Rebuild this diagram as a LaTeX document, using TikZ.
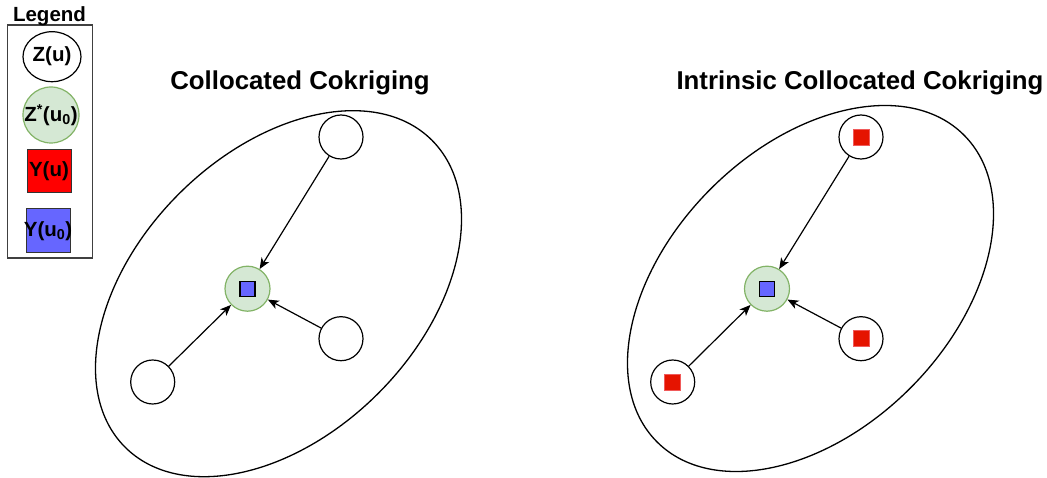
\documentclass[tikz,border=0pt]{standalone}
\usepackage{fontspec}
\setmainfont{Liberation Sans}
\usetikzlibrary{shapes.geometric,arrows.meta}
\definecolor{ptfill}{HTML}{D5E8D4}
\definecolor{ptline}{HTML}{82B366}
\definecolor{sqred}{HTML}{E51400}
\definecolor{sqredline}{HTML}{F05A5A}
\definecolor{legred}{HTML}{FF0000}
\definecolor{sqblue}{HTML}{6666FF}
\tikzset{
  sample/.style={circle,draw,line width=1.2pt,minimum size=44pt,inner sep=0pt},
  target/.style={circle,draw=ptline,fill=ptfill,line width=1.2pt,minimum size=45pt,inner sep=0pt},
  bluesq/.style={rectangle,draw,fill=sqblue,line width=1.1pt,minimum size=15pt,inner sep=0pt},
  redsq/.style={rectangle,draw=sqredline,fill=sqred,line width=0.8pt,minimum size=16pt,inner sep=0pt},
  zone/.style={ellipse,draw,line width=1.3pt,minimum width=434pt,minimum height=282pt,inner sep=0pt,rotate=45},
  arr/.style={line width=1.2pt,-{Stealth[length=11pt,width=9pt,inset=3pt]}},
  title/.style={font=\fontsize{25.8}{30}\selectfont\bfseries,anchor=base,inner sep=0pt},
  legtext/.style={font=\fontsize{20.5}{24}\selectfont\bfseries,inner sep=0pt},
}
\begin{document}
\begin{tikzpicture}[x=1pt,y=-1pt]
\useasboundingbox (0,0) rectangle (1047,478);

% legend
\draw[line width=1.1pt,black!75] (7.5,25) rectangle (92.5,258);
\node[legtext,anchor=base] (legtitle) at (49.5,21.5) {Legend};
\node[ellipse,draw,line width=1.2pt,minimum width=58pt,minimum height=50pt,inner sep=0pt] (lz) at (52,56.7) {};
\node[legtext] (lzt) at (52,56.7) {Z(u)};
\node[circle,draw=ptline,fill=ptfill,line width=1.2pt,minimum size=56pt,inner sep=0pt] (lzs) at (51,115) {};
\node[legtext] (lzst) at (51,115) {Z\textsuperscript{*}(u\textsubscript{0})};
\node[rectangle,draw=black!80,fill=legred,line width=1pt,minimum width=44pt,minimum height=43pt,inner sep=0pt] (ly) at (49,171.5) {};
\node[legtext] (lyt) at (49,171.5) {Y(u)};
\node[rectangle,draw=black!80,fill=sqblue,line width=1pt,minimum size=44pt,inner sep=0pt] (lyz) at (48,231) {};
\node[legtext] (lyzt) at (48,231) {Y(u\textsubscript{0})};

% collocated cokriging
\node[title] (title1) at (300,89.5) {Collocated Cokriging};
\node[zone] (e1) at (278.5,293.7) {};
\node[target] (c1) at (247.5,288.7) {};
\node[bluesq] (c1sq) at (c1) {};
\node[sample] (t1) at (341,137) {};
\node[sample] (r1) at (341,338.7) {};
\node[sample] (b1) at (152.7,382) {};
\draw[arr] (t1) -- (c1);
\draw[arr] (r1) -- (c1);
\draw[arr] (b1) -- (c1);

% intrinsic collocated cokriging
\node[title] (title2) at (860,89.5) {Intrinsic Collocated Cokriging};
\node[zone] (e2) at (810.5,288.5) {};
\node[target] (c2) at (767,288.7) {};
\node[bluesq] (c2sq) at (c2) {};
\node[sample] (t2) at (861,137) {};
\node[sample] (r2) at (861,338.7) {};
\node[sample] (b2) at (672.7,382) {};
\node[redsq] (t2sq) at (t2) {};
\node[redsq] (r2sq) at (r2) {};
\node[redsq] (b2sq) at (b2) {};
\draw[arr] (t2) -- (c2);
\draw[arr] (r2) -- (c2);
\draw[arr] (b2) -- (c2);
\end{tikzpicture}
\end{document}
